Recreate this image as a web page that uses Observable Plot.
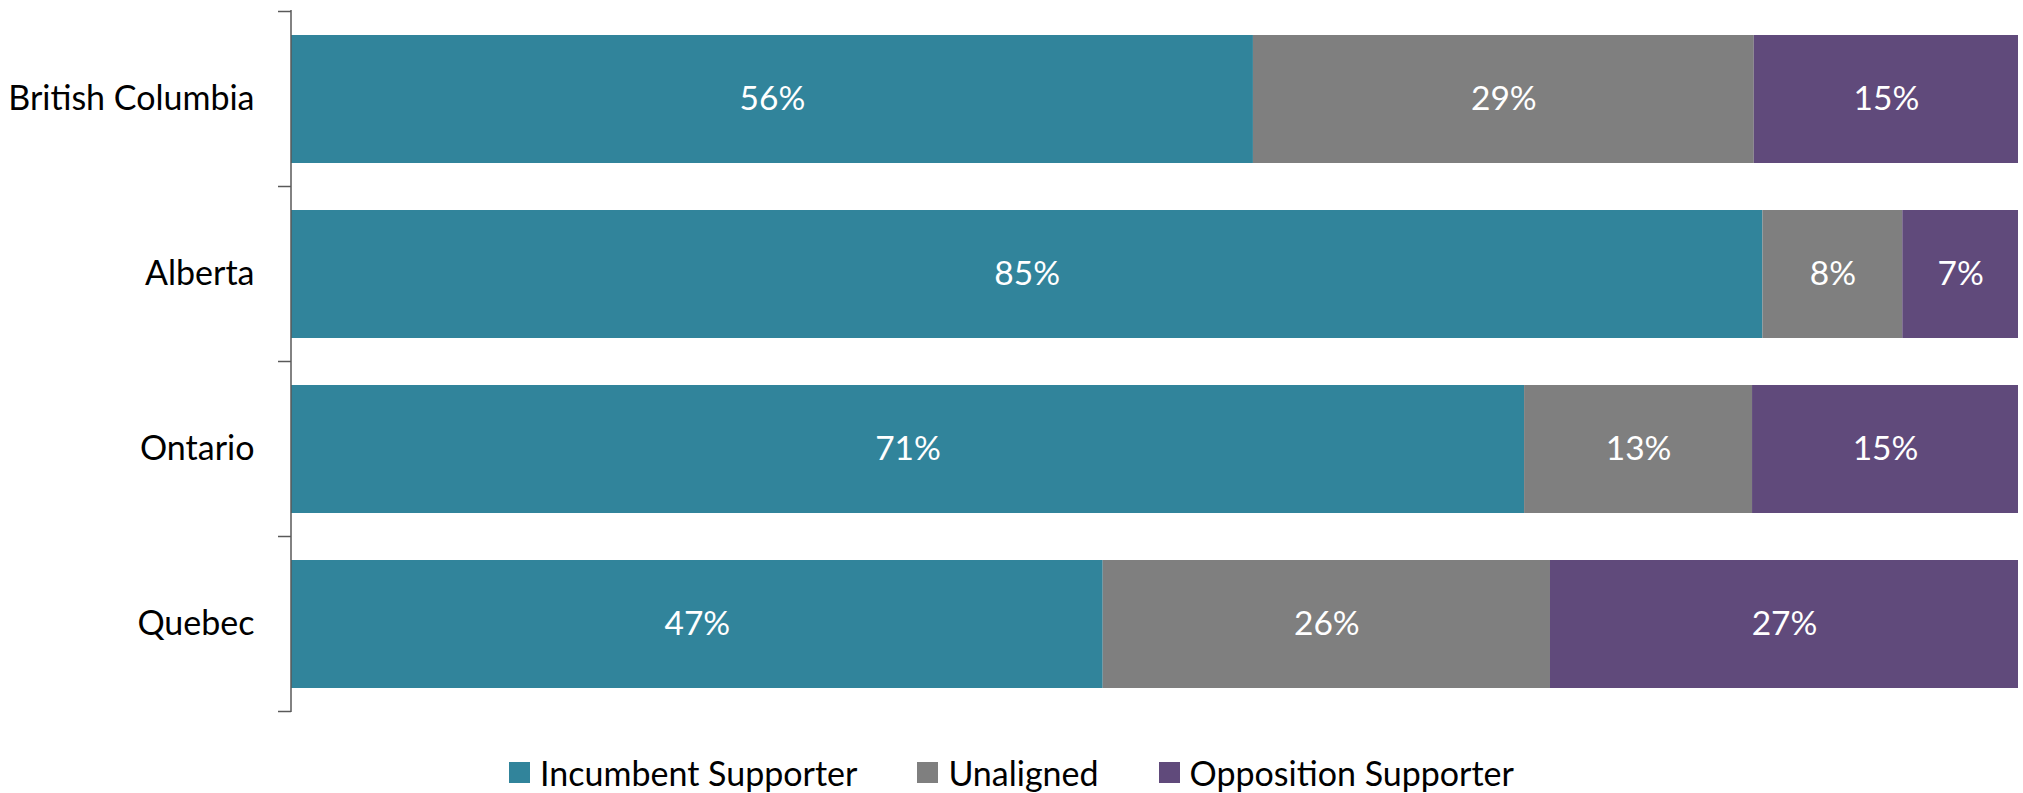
<!DOCTYPE html>
<html>
<head>
<meta charset="utf-8">
<script src="https://cdn.jsdelivr.net/npm/d3@7"></script>
<script src="https://cdn.jsdelivr.net/npm/@observablehq/plot@0.6"></script>
<style>
  html, body { margin: 0; padding: 0; background: #fff; }
  body { width: 2023px; height: 793px; overflow: hidden; font-family: Lato, "Noto Sans", sans-serif; }
  #chart svg { display: block; }
  #legend { display: flex; justify-content: center; align-items: center; height: 40px; margin-top: 22px; font-size: 34px; color: #000; }
  .item { display: flex; align-items: center; margin: 0 30px; white-space: nowrap; }
  .sw { width: 21px; height: 21px; margin-right: 10px; flex-shrink: 0; }
</style>
</head>
<body>
<div id="chart"></div>
<div id="legend"></div>
<script>
const regions = ["British Columbia", "Alberta", "Ontario", "Quebec"];
const groups = ["Incumbent Supporter", "Unaligned", "Opposition Supporter"];
const incumbent = [55.7, 85.2, 71.4, 47.0];
const unaligned = [29.0, 8.1, 13.2, 25.9];
const opposition = [15.3, 6.7, 15.4, 27.1];
const colors = ["#31849B", "#7F7F7F", "#604A7B"];

const series = [incumbent, unaligned, opposition];
const data = [];
groups.forEach((g, gi) => {
  regions.forEach((r, ri) => {
    data.push({region: r, group: g, value: series[gi][ri]});
  });
});

const axisMark = (index, scales, values, dims) => {
  const x = scales.x, y = scales.y;
  const x0 = x(0);
  const top = dims.marginTop, bottom = dims.height - dims.marginBottom;
  const step = y.step ? y.step() : (bottom - top) / regions.length;
  const bw = y.bandwidth ? y.bandwidth() : step * 0.73;
  const bounds = regions.map(r => y(r) + bw / 2 - step / 2);
  bounds.push(y(regions[regions.length - 1]) + bw / 2 + step / 2);
  const g = d3.create("svg:g").attr("stroke", "#595959").attr("stroke-width", 1.5);
  g.append("line").attr("x1", x0).attr("x2", x0).attr("y1", top).attr("y2", bottom);
  for (const b of bounds) {
    g.append("line").attr("x1", x0 - 13).attr("x2", x0).attr("y1", b).attr("y2", b);
  }
  return g.node();
};

const chart = Plot.plot({
  width: 2023,
  height: 730,
  marginLeft: 291,
  marginRight: 5,
  marginTop: 10,
  marginBottom: 18,
  style: {fontFamily: "Lato, 'Noto Sans', sans-serif", background: "#fff"},
  x: {domain: [0, 100], axis: null},
  y: {domain: regions, paddingInner: 0.27, paddingOuter: 0.135, label: null},
  color: {domain: groups, range: colors},
  marks: [
    Plot.barX(data, Plot.stackX({x: "value", y: "region", z: "group", fill: "group", order: null})),
    Plot.text(data, Plot.stackX({x: "value", y: "region", z: "group", order: null,
      text: d => Math.round(d.value) + "%", fill: "white", fontSize: 33.5})),
    Plot.axisY({tickSize: 0, tickPadding: 37, fontSize: 34, label: null, color: "#000"}),
    axisMark
  ]
});
document.getElementById("chart").appendChild(chart);

const legend = document.getElementById("legend");
groups.forEach((g, i) => {
  const item = document.createElement("div");
  item.className = "item";
  const sw = document.createElement("div");
  sw.className = "sw";
  sw.style.background = colors[i];
  const t = document.createElement("span");
  t.textContent = g;
  item.appendChild(sw);
  item.appendChild(t);
  legend.appendChild(item);
});
</script>
</body>
</html>
